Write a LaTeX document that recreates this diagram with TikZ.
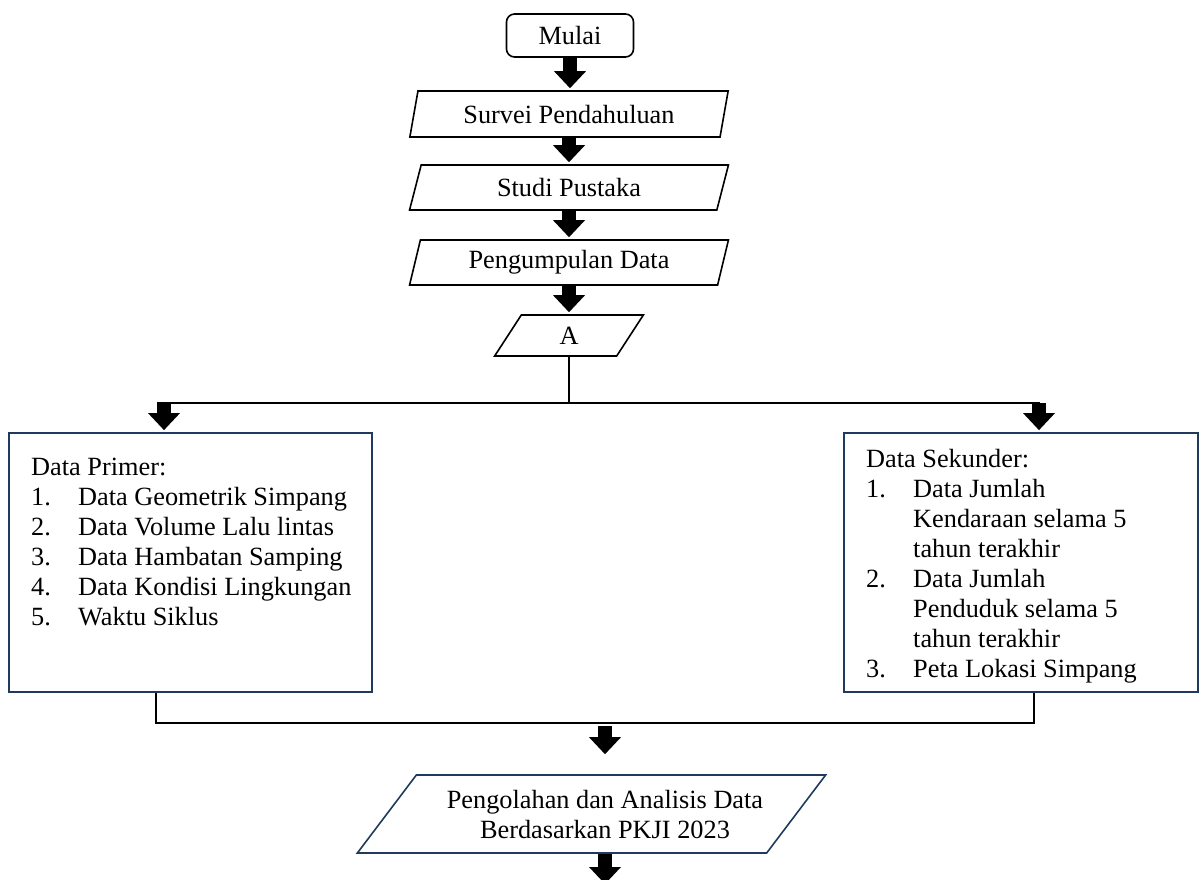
\documentclass[tikz,border=0pt]{standalone}
\usepackage{fontspec}
\setmainfont{Liberation Serif}
\usetikzlibrary{shapes.geometric,arrows.meta}
\definecolor{boxline}{HTML}{1F3A5C}
\tikzset{
  startbox/.style={draw,line width=1.6pt,rounded corners=8pt,minimum width=127pt,minimum height=43pt,inner sep=0pt},
  iobox/.style={draw,trapezium,trapezium left angle=73,trapezium right angle=107,trapezium stretches=true,
    line width=1.6pt,minimum width=319pt,minimum height=46pt,inner sep=0pt},
  databox/.style={draw=boxline,line width=1.8pt,inner sep=0pt},
  listtxt/.style={anchor=base west,inner sep=0pt},
  conn/.style={line width=1.8pt},
  blockarrow/.style={line width=14pt,-{Triangle[length=17pt,width=32pt,line width=0pt]},shorten >=2pt},
}
\begin{document}
\begin{tikzpicture}[x=1pt,y=-1pt,font=\fontsize{26.3}{30}\selectfont]
\useasboundingbox (0,0) rectangle (1200,879);
\clip (0,0) rectangle (1200,879);
% alur atas
\node[startbox] (mulai) at (570,35.5) {Mulai};
\node[iobox] (survei) at (569,114) {Survei Pendahuluan};
\node[iobox,minimum height=45pt] (studi) at (569,187.5) {Studi Pustaka};
\node[iobox,minimum height=45pt] (kumpul) at (569,262.5) {Pengumpulan Data};
\node[iobox,minimum width=149pt,minimum height=41pt] (A) at (569,335.5) {A};
\draw[blockarrow] (mulai.south) -- (mulai.south |- survei.north);
\draw[blockarrow] (survei.south) -- (survei.south |- studi.north);
\draw[blockarrow] (studi.south) -- (studi.south |- kumpul.north);
\draw[blockarrow] (kumpul.south) -- (kumpul.south |- A.north);
% percabangan
\coordinate (asplit) at (569,403);
\coordinate (lsplit) at (164,403);
\coordinate (rsplit) at (1039,403);
\node[databox,minimum width=363pt,minimum height=259pt] (primer) at (190.5,562.5) {};
\node[databox,minimum width=354pt,minimum height=259pt] (sekunder) at (1021,562.5) {};
\draw[conn] (A.south) -- (asplit);
\draw[conn] ([xshift=-7pt]lsplit) -- ([xshift=1pt]rsplit);
\draw[blockarrow] (lsplit) -- (lsplit |- primer.north);
\draw[blockarrow] (rsplit) -- (rsplit |- sekunder.north);
% isi kotak data
\node[listtxt] (phead) at (31,475) {Data Primer:};
\foreach \n/\t [count=\k] in {1./Data Geometrik Simpang,2./Data Volume Lalu lintas,3./Data Hambatan Samping,
  4./Data Kondisi Lingkungan,5./Waktu Siklus}{
  \node[listtxt] (pn\k) at (31,475+30*\k) {\n};
  \node[listtxt] (pi\k) at (78,475+30*\k) {\t};
}
\node[listtxt] (shead) at (866,467) {Data Sekunder:};
\foreach \k/\n in {1/1.,4/2.,7/3.}{\node[listtxt] (sn\k) at (866,467+30*\k) {\n};}
\foreach \t [count=\k] in {Data Jumlah,Kendaraan selama 5,tahun terakhir,Data Jumlah,Penduduk selama 5,
  tahun terakhir,Peta Lokasi Simpang}{
  \node[listtxt] (si\k) at (913,467+30*\k) {\t};
}
% penggabungan
\coordinate (ljoin) at (156,723);
\coordinate (rjoin) at (1034,723);
\coordinate (mjoin) at (605,723);
\coordinate (akhir) at (605,886);
\node[iobox,draw=boxline,trapezium left angle=40,trapezium right angle=140,minimum width=471pt,minimum height=78pt,
  align=center] (olah) at (591.5,814)
  {\hspace*{27pt}Pengolahan dan Analisis Data\\\hspace*{27pt}Berdasarkan PKJI 2023};
\draw[conn] (primer.south -| ljoin) -- (ljoin) -- (rjoin) -- (sekunder.south -| rjoin);
\draw[blockarrow,shorten <=3pt,shorten >=20pt] (mjoin) -- (mjoin |- olah.north);
\draw[blockarrow] (olah.south -| akhir) -- (akhir);
\end{tikzpicture}
\end{document}
